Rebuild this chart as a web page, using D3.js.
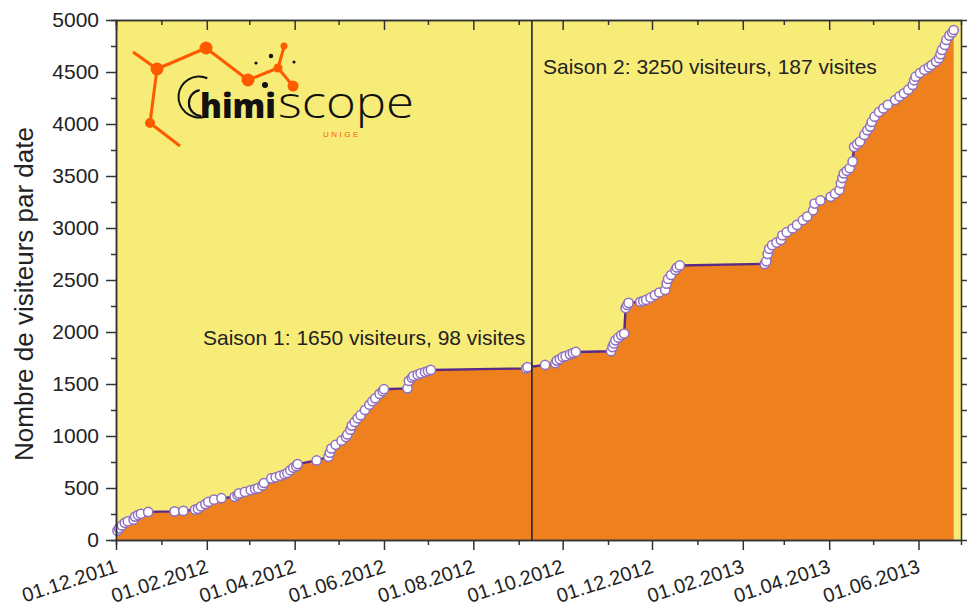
<!DOCTYPE html>
<html lang="fr">
<head>
    <meta charset="UTF-8">
    <title>Chimiscope - visiteurs par date</title>
    <script src="https://d3js.org/d3.v7.min.js"></script>
    <style>
        body{
            margin: 0;
            background-color: white;
        }
        svg text{
            font-family: "Liberation Sans", Arial, sans-serif;
            fill: #222;
        }
        .axis path, .axis line{
            stroke: #333;
            stroke-width: 1.5px;
        }
        .axis text{
            font-size: 21px;
        }
        .xaxis text{
            font-size: 20px;
        }
        .note{
            font-size: 21px;
        }
    </style>
</head>
<body>

<svg id="canvas" width="968" height="606"></svg>

<script>
    // cumulated visitors (one entry per visit date)
    let visitDates = [
        // saison 1
        "02.12.2011","03.12.2011","05.12.2011","07.12.2011","09.12.2011","13.12.2011","14.12.2011",
        "16.12.2011","18.12.2011","23.12.2011","10.01.2012","16.01.2012","24.01.2012","26.01.2012",
        "28.01.2012","31.01.2012","02.02.2012","06.02.2012","11.02.2012","20.02.2012","22.02.2012",
        "23.02.2012","27.02.2012","02.03.2012","05.03.2012","07.03.2012","10.03.2012","11.03.2012",
        "16.03.2012","19.03.2012","22.03.2012","25.03.2012","27.03.2012","29.03.2012","31.03.2012",
        "02.04.2012","03.04.2012","16.04.2012","24.04.2012","25.04.2012","26.04.2012","29.04.2012",
        "03.05.2012","06.05.2012","07.05.2012","09.05.2012","10.05.2012","12.05.2012","14.05.2012",
        "16.05.2012","19.05.2012","22.05.2012","24.05.2012","26.05.2012","29.05.2012","31.05.2012",
        "01.06.2012","17.06.2012","18.06.2012","20.06.2012","21.06.2012","24.06.2012","26.06.2012",
        "29.06.2012","01.07.2012","03.07.2012","06.09.2012","07.09.2012",
        // saison 2
        "19.09.2012","26.09.2012","27.09.2012","29.09.2012","01.10.2012","03.10.2012","06.10.2012",
        "08.10.2012","10.10.2012","03.11.2012","04.11.2012","05.11.2012","06.11.2012","08.11.2012",
        "10.11.2012","12.11.2012","13.11.2012","14.11.2012","15.11.2012","23.11.2012","25.11.2012",
        "27.11.2012","30.11.2012","03.12.2012","06.12.2012","10.12.2012","11.12.2012","12.12.2012",
        "14.12.2012","17.12.2012","18.12.2012","20.12.2012","16.02.2013","17.02.2013","18.02.2013",
        "19.02.2013","21.02.2013","24.02.2013","27.02.2013","28.02.2013","03.03.2013","07.03.2013",
        "10.03.2013","14.03.2013","17.03.2013","21.03.2013","22.03.2013","26.03.2013","02.04.2013",
        "05.04.2013","08.04.2013","09.04.2013","10.04.2013","11.04.2013","13.04.2013","15.04.2013",
        "17.04.2013","18.04.2013","20.04.2013","22.04.2013","25.04.2013","27.04.2013","29.04.2013",
        "30.04.2013","02.05.2013","05.05.2013","08.05.2013","11.05.2013","16.05.2013","19.05.2013",
        "22.05.2013","25.05.2013","28.05.2013","29.05.2013","30.05.2013","02.06.2013","05.06.2013",
        "08.06.2013","10.06.2013","13.06.2013","15.06.2013","16.06.2013","17.06.2013","19.06.2013",
        "20.06.2013","22.06.2013","24.06.2013","25.06.2013"
    ];
    let visitors = [
        90,112,140,165,180,195,225,
        240,252,270,275,280,292,300,
        322,345,366,388,402,415,432,
        448,462,480,490,498,525,548,
        592,603,618,632,645,670,695,
        710,730,765,800,840,880,915,
        955,990,1015,1060,1100,1135,1170,
        1200,1250,1300,1335,1362,1405,1430,
        1450,1458,1530,1560,1577,1590,1603,
        1615,1625,1635,1650,1662,
        1683,1700,1725,1740,1760,1768,1785,
        1797,1808,1815,1855,1890,1920,1945,
        1970,1985,2230,2260,2280,2290,2298,
        2308,2330,2355,2380,2404,2465,2510,
        2548,2596,2620,2640,2655,2680,2750,
        2800,2835,2860,2885,2930,2960,2995,
        3030,3075,3110,3170,3235,3265,3300,
        3330,3365,3430,3480,3525,3550,3575,
        3640,3780,3805,3830,3895,3940,3975,
        4020,4070,4115,4150,4185,4230,4265,
        4295,4330,4375,4420,4455,4490,4520,
        4545,4567,4600,4632,4670,4712,4760,
        4808,4850,4880,4904
    ];
    let seasonSplit = "10.09.2012";
    let xTickLabels = ["01.12.2011","01.02.2012","01.04.2012","01.06.2012","01.08.2012",
        "01.10.2012","01.12.2012","01.02.2013","01.04.2013","01.06.2013"];
    let yTickValues = [0,500,1000,1500,2000,2500,3000,3500,4000,4500,5000];
    let noteTexts = ["Saison 1: 1650 visiteurs, 98 visites", "Saison 2: 3250 visiteurs, 187 visites"];
    let yTitle = "Nombre de visiteurs par date";

    let parse = d3.timeParse("%d.%m.%Y");
    let fmt = d3.timeFormat("%d.%m.%Y");
    let data = visitDates.map(function (d, i) {
        return {date: parse(d), value: visitors[i]};
    });

    let svg = d3.select("svg");
    let plotLeft = 116, plotRight = 961, plotTop = 20, plotBottom = 540;

    let x = d3.scaleTime()
        .domain([parse("01.12.2011"), parse("30.06.2013")])
        .range([plotLeft, plotRight]);
    let y = d3.scaleLinear()
        .domain([0, 5000])
        .range([plotBottom, plotTop]);

    // plot background
    svg.append("rect")
        .attr("x", plotLeft).attr("y", plotTop)
        .attr("width", plotRight - plotLeft).attr("height", plotBottom - plotTop)
        .attr("fill", "#f8ec78");

    // orange area under the curve
    let area = d3.area()
        .x(function (d) { return x(d.date); })
        .y0(y(0))
        .y1(function (d) { return y(d.value); });
    svg.append("path")
        .datum(data)
        .attr("d", area)
        .attr("fill", "#ee801e");

    // logo
    let logo = svg.append("g").attr("class", "logo");
    let orange = "#fe5a00";
    let links = [[133,52,157,69],[157,69,206,48],[206,48,248,80],[248,80,278,68],[278,68,284,47],
        [278,68,293,86],[157,69,150,123],[150,123,180,146]];
    logo.selectAll("line")
        .data(links)
        .enter()
        .append("line")
        .attr("x1", function (d) { return d[0]; })
        .attr("y1", function (d) { return d[1]; })
        .attr("x2", function (d) { return d[2]; })
        .attr("y2", function (d) { return d[3]; })
        .attr("stroke", orange)
        .attr("stroke-width", 3);
    let atoms = [[157,69,6.5,orange],[206,48,6.5,orange],[150,123,5,orange],[248,80,6.5,orange],
        [278,68,4.5,orange],[284,46,3.5,orange],[293,86,5.5,orange],
        [256,63,1.6,"#111"],[271,56,2.2,"#111"],[294,62,1.6,"#111"],[265,85,3,"#111"]];
    logo.selectAll("circle")
        .data(atoms)
        .enter()
        .append("circle")
        .attr("cx", function (d) { return d[0]; })
        .attr("cy", function (d) { return d[1]; })
        .attr("r", function (d) { return d[2]; })
        .attr("fill", function (d) { return d[3]; });
    // the double "C"
    logo.append("path")
        .attr("d", d3.arc()({innerRadius: 19.5, outerRadius: 21.5, startAngle: 2.9, endAngle: 6.7}))
        .attr("transform", "translate(199,97)")
        .attr("fill", "#111");
    logo.append("path")
        .attr("d", d3.arc()({innerRadius: 12, outerRadius: 14.2, startAngle: 3.2, endAngle: 6.1}))
        .attr("transform", "translate(202,103)")
        .attr("fill", "#111");
    logo.append("text")
        .attr("x", 200).attr("y", 118)
        .attr("textLength", 76).attr("lengthAdjust", "spacingAndGlyphs")
        .style("font-family", "'Open Sans', sans-serif")
        .style("font-weight", "800")
        .style("font-size", "34px")
        .style("fill", "#111")
        .text("himi");
    logo.append("text")
        .attr("x", 278).attr("y", 118)
        .attr("textLength", 136).attr("lengthAdjust", "spacingAndGlyphs")
        .style("font-family", "'Open Sans', sans-serif")
        .style("font-weight", "300")
        .style("font-size", "44px")
        .style("fill", "#111")
        .text("scope");
    logo.append("text")
        .attr("x", 323).attr("y", 137)
        .style("font-size", "8px")
        .style("letter-spacing", "2.5px")
        .style("fill", orange)
        .text("UNIGE");

    // purple line and markers
    let line = d3.line()
        .x(function (d) { return x(d.date); })
        .y(function (d) { return y(d.value); });
    svg.append("path")
        .datum(data)
        .attr("d", line)
        .attr("fill", "none")
        .attr("stroke", "#5b2a86")
        .attr("stroke-width", 2.4);
    svg.append("g")
        .selectAll("circle")
        .data(data)
        .enter()
        .append("circle")
        .attr("cx", function (d) { return x(d.date); })
        .attr("cy", function (d) { return y(d.value); })
        .attr("r", 4.6)
        .attr("fill", "white")
        .attr("stroke", "#8f6fc0")
        .attr("stroke-width", 1.5);

    // separation between the two seasons
    svg.append("line")
        .attr("x1", x(parse(seasonSplit))).attr("x2", x(parse(seasonSplit)))
        .attr("y1", y(5000)).attr("y2", y(0))
        .attr("stroke", "#222")
        .attr("stroke-width", 1.6);

    svg.append("text").attr("class", "note")
        .attr("x", 203).attr("y", 345)
        .text(noteTexts[0]);
    svg.append("text").attr("class", "note")
        .attr("x", 543).attr("y", 74)
        .text(noteTexts[1]);

    // axes
    let majorDates = xTickLabels.map(parse);
    let minorDates = d3.timeMonths(x.domain()[0], x.domain()[1]).filter(function (d) {
        return d.getMonth() % 2 === 0;
    });
    let minorValues = d3.range(250, 5000, 500);

    svg.append("g").attr("class", "axis")
        .attr("transform", "translate(0," + plotBottom + ")")
        .call(d3.axisBottom(x).tickValues(minorDates).tickSize(5).tickFormat(""));
    let xAxis = svg.append("g").attr("class", "axis xaxis")
        .attr("transform", "translate(0," + plotBottom + ")")
        .call(d3.axisBottom(x).tickValues(majorDates).tickSize(10).tickSizeOuter(0).tickFormat(fmt));
    xAxis.selectAll("text")
        .attr("x", 0).attr("y", 0).attr("dy", 0)
        .attr("text-anchor", "end")
        .attr("transform", "translate(2,32) rotate(-18)");

    svg.append("g").attr("class", "axis")
        .attr("transform", "translate(0," + plotTop + ")")
        .call(d3.axisTop(x).tickValues(minorDates).tickSize(-5).tickFormat(""));
    svg.append("g").attr("class", "axis")
        .attr("transform", "translate(0," + plotTop + ")")
        .call(d3.axisTop(x).tickValues(majorDates).tickSize(-10).tickSizeOuter(0).tickFormat(""));

    svg.append("g").attr("class", "axis")
        .attr("transform", "translate(" + plotLeft + ",0)")
        .call(d3.axisLeft(y).tickValues(minorValues).tickSize(5).tickFormat(""));
    svg.append("g").attr("class", "axis")
        .attr("transform", "translate(" + plotLeft + ",0)")
        .call(d3.axisLeft(y).tickValues(yTickValues).tickSize(10).tickSizeOuter(0)
            .tickPadding(7).tickFormat(d3.format("d")));

    svg.append("g").attr("class", "axis")
        .attr("transform", "translate(" + plotRight + ",0)")
        .call(d3.axisRight(y).tickValues(d3.range(0, 5001, 250)).tickSize(6).tickSizeOuter(0).tickFormat(""));

    svg.selectAll(".axis .domain").attr("stroke", "#333").attr("stroke-width", 1.6);

    svg.append("text")
        .attr("transform", "translate(33,294) rotate(-90)")
        .attr("text-anchor", "middle")
        .style("font-size", "26px")
        .text(yTitle);
</script>

</body>
</html>
